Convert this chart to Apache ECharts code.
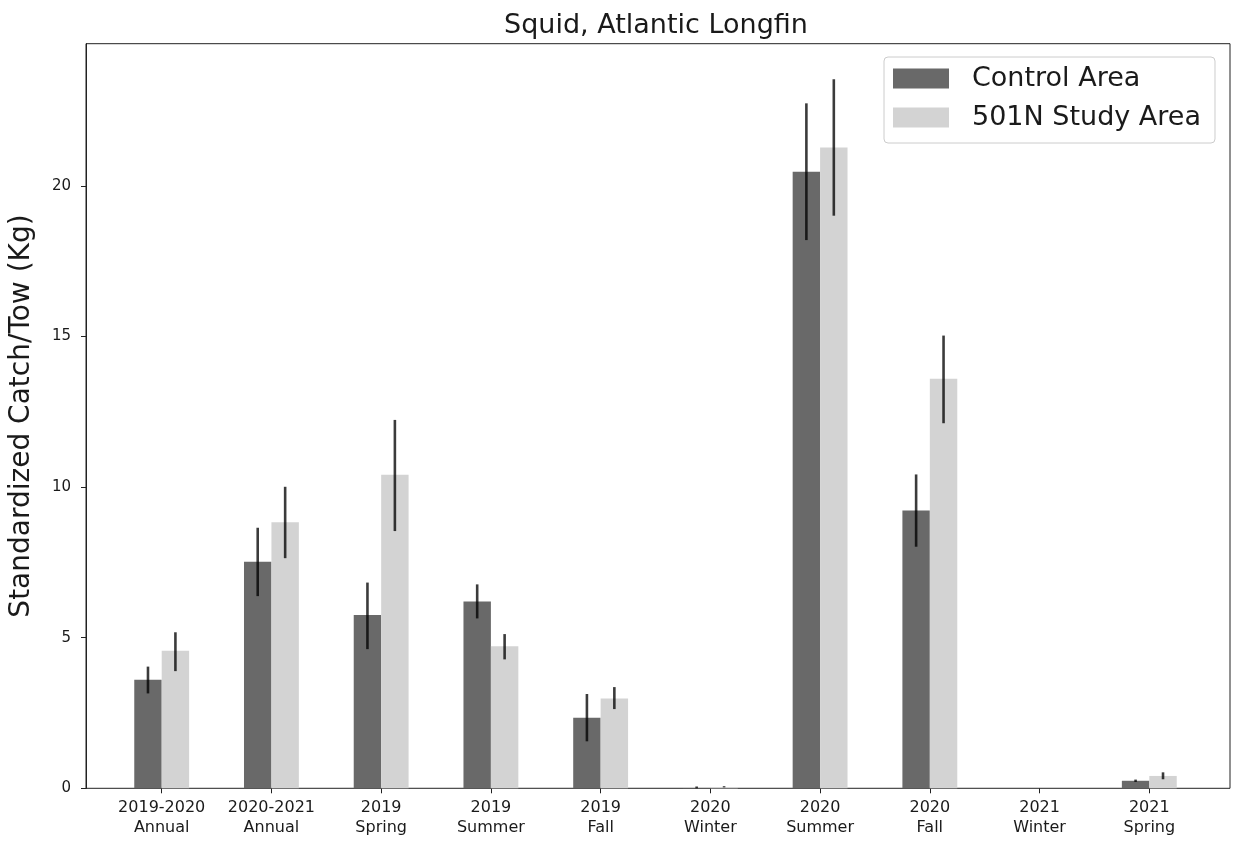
<!DOCTYPE html>
<html>
<head>
<meta charset="utf-8">
<script src="https://cdn.jsdelivr.net/npm/echarts@6/dist/echarts.min.js"></script>
<style>
html,body{margin:0;padding:0;background:#fff;}
#chart{width:1233px;height:842px;}
</style>
</head>
<body>
<div id="chart"></div>
<script>
const categories = ['2019-2020\nAnnual','2020-2021\nAnnual','2019\nSpring','2019\nSummer','2019\nFall','2020\nWinter','2020\nSummer','2020\nFall','2021\nWinter','2021\nSpring'];
const seriesNames = ['Control Area','501N Study Area'];
const control     = [3.60, 7.52, 5.75, 6.20, 2.34, 0.01, 20.47, 9.22, 0, 0.25];
const controlLow  = [3.15, 6.38, 4.62, 5.64, 1.56, 0.00, 18.20, 8.02, 0, 0.21];
const controlHigh = [4.04, 8.65, 6.83, 6.77, 3.13, 0.06, 22.74, 10.42, 0, 0.29];
const study       = [4.57, 8.83, 10.41, 4.72, 2.98, 0.04, 21.27, 13.60, 0, 0.41];
const studyLow    = [3.89, 7.64, 8.54, 4.28, 2.63, 0.03, 19.01, 12.12, 0, 0.30];
const studyHigh   = [5.18, 10.01, 12.23, 5.12, 3.36, 0.07, 23.54, 15.03, 0, 0.53];
const yTicks = [0, 5, 10, 15, 20];
const yMax = 24.72;

function errData(lo, hi, side) {
  const out = [];
  for (let i = 0; i < lo.length; i++) {
    if (hi[i] > lo[i]) out.push([i, lo[i], hi[i], side]);
  }
  return out;
}

function renderErr(params, api) {
  const i = api.value(0);
  const side = api.value(3);
  const p1 = api.coord([i, api.value(1)]);
  const p2 = api.coord([i, api.value(2)]);
  const bw = api.size([1, 0])[0] * 0.25;
  const x = p1[0] + side * bw / 2;
  return {
    type: 'line',
    shape: {x1: x, y1: p1[1], x2: x, y2: p2[1]},
    style: {stroke: 'rgba(0,0,0,0.77)', lineWidth: 2.6}
  };
}

const chart = echarts.init(document.getElementById('chart'), null, {renderer: 'canvas'});
const txt = '#1a1a1a';
chart.setOption({
  animation: false,
  backgroundColor: '#fff',
  textStyle: {fontFamily: 'DejaVu Sans'},
  title: {
    text: 'Squid, Atlantic Longfin',
    left: 651, top: 7, textAlign: 'center',
    textStyle: {fontFamily: 'DejaVu Sans', fontSize: 27, fontWeight: 'normal', color: txt}
  },
  legend: {
    data: seriesNames,
    orient: 'vertical',
    left: 884, top: 57,
    width: 332,
    itemWidth: 56, itemHeight: 20,
    itemGap: 12,
    icon: 'rect',
    padding: [8, 14, 12, 9],
    borderColor: '#cccccc', borderWidth: 1, borderRadius: 4,
    backgroundColor: 'rgba(255,255,255,0.8)',
    textStyle: {fontFamily: 'DejaVu Sans', fontSize: 27, lineHeight: 27, color: txt, padding: [0, 0, 0, 18]}
  },
  grid: [
    {left: 106.83, right: 28.83, top: 43.7, bottom: 53.7},
    {left: 83, right: 3, top: 43.7, bottom: 53.7, show: true, borderColor: '#222', borderWidth: 1, backgroundColor: 'transparent'}
  ],
  xAxis: [
    {
      type: 'category', gridIndex: 0, data: categories,
      axisLine: {show: false},
      axisTick: {show: true, alignWithLabel: true, length: 5, lineStyle: {color: '#222'}},
      axisLabel: {fontFamily: 'DejaVu Sans', fontSize: 16, lineHeight: 20, color: txt, margin: 10, interval: 0}
    },
    {type: 'value', gridIndex: 1, min: 0, max: 1, show: false}
  ],
  yAxis: [
    {type: 'value', gridIndex: 0, min: 0, max: yMax, show: false, splitLine: {show: false}},
    {
      type: 'value', gridIndex: 1, min: 0, max: yMax,
      name: 'Standardized Catch/Tow (Kg)',
      nameLocation: 'middle', nameRotate: 90, nameGap: 50,
      nameTextStyle: {fontFamily: 'DejaVu Sans', fontSize: 28, color: txt},
      axisLine: {show: true, lineStyle: {color: '#222'}},
      axisTick: {show: true, length: 5, lineStyle: {color: '#222'}, customValues: yTicks},
      axisLabel: {fontFamily: 'DejaVu Sans', fontSize: 15, color: txt, margin: 15, customValues: yTicks},
      splitLine: {show: false}
    }
  ],
  series: [
    {name: seriesNames[0], type: 'bar', xAxisIndex: 0, yAxisIndex: 0, data: control,
      barWidth: '25%', barGap: '0%', itemStyle: {color: '#696969'}},
    {name: seriesNames[1], type: 'bar', xAxisIndex: 0, yAxisIndex: 0, data: study,
      barWidth: '25%', barGap: '0%', itemStyle: {color: '#d3d3d3'}},
    {name: 'errC', type: 'custom', xAxisIndex: 0, yAxisIndex: 0, z: 5,
      renderItem: renderErr, data: errData(controlLow, controlHigh, -1)},
    {name: 'errS', type: 'custom', xAxisIndex: 0, yAxisIndex: 0, z: 5,
      renderItem: renderErr, data: errData(studyLow, studyHigh, 1)}
  ]
});
</script>
</body>
</html>
